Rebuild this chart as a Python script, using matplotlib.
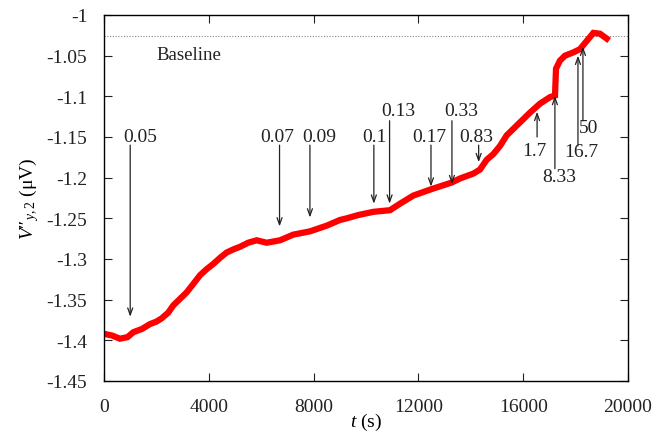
import matplotlib
matplotlib.use('Agg')
import matplotlib.pyplot as plt

plt.rcParams['font.family'] = ['Liberation Serif', 'DejaVu Serif']
plt.rcParams['mathtext.fontset'] = 'custom'
plt.rcParams['mathtext.rm'] = 'Liberation Serif'
plt.rcParams['mathtext.it'] = 'Liberation Serif:italic'

# signal
t = [0, 300, 610, 900, 1120, 1450, 1756, 2000, 2200, 2450, 2646, 2900, 3155, 3400,
     3664, 3900, 4172, 4450, 4682, 4950, 5191, 5500, 5827, 6209, 6718, 7227, 7863,
     8500, 9008, 9263, 9700, 10280, 10916, 11298, 11807, 12508, 13271, 13588, 14097,
     14351, 14606, 14860, 15115, 15369, 15878, 16260, 16641, 17023, 17214, 17252,
     17405, 17595, 17913, 18168, 18422, 18677, 18931, 19186]
v = [-1.392, -1.394, -1.398, -1.396, -1.390, -1.386, -1.380, -1.377, -1.373, -1.366,
     -1.357, -1.349, -1.341, -1.331, -1.320, -1.313, -1.306, -1.298, -1.292, -1.288,
     -1.285, -1.280, -1.277, -1.280, -1.277, -1.270, -1.266, -1.259, -1.252, -1.250,
     -1.246, -1.242, -1.240, -1.232, -1.222, -1.214, -1.206, -1.201, -1.195, -1.190,
     -1.178, -1.171, -1.161, -1.148, -1.132, -1.120, -1.109, -1.101, -1.099, -1.066,
     -1.056, -1.050, -1.046, -1.042, -1.032, -1.022, -1.023, -1.029]
baseline = -1.026

# markers: label, time, label y, arrow tail y, arrow tip y
mark_labels = ['0.05', '0.07', '0.09', '0.1', '0.13', '0.17', '0.33', '0.83',
               '1.7', '8.33', '16.7', '50']
mark_t = [1000, 6700, 7860, 10300, 10900, 12480, 13280, 14300, 16530, 17210, 18090, 18280]
mark_label_y = [-1.149, -1.149, -1.149, -1.149, -1.118, -1.149, -1.118, -1.149,
                -1.167, -1.198, -1.168, -1.138]
mark_tail_y = [-1.160, -1.160, -1.160, -1.160, -1.130, -1.160, -1.130, -1.160,
               -1.150, -1.189, -1.161, -1.130]
mark_tip_y = [-1.371, -1.260, -1.249, -1.232, -1.232, -1.211, -1.208, -1.181,
              -1.119, -1.0995, -1.050, -1.039]
label_dx = [380, -80, 340, 40, 340, -80, 340, -80, -110, 150, 110, 230]

fig = plt.figure(figsize=(6.68, 4.35), dpi=100)
ax = fig.add_axes([104 / 668, 1 - 382 / 435, 524 / 668, 366 / 435])

ax.axhline(baseline, color='#888888', linestyle=(0, (1, 1.5)), linewidth=0.8)
ax.plot(t, v, color='red', linewidth=4.5, solid_joinstyle='miter')

for lab, x, ly, y0, y1, dx in zip(mark_labels, mark_t, mark_label_y, mark_tail_y,
                                  mark_tip_y, label_dx):
    ax.annotate('', xy=(x, y1), xytext=(x, y0),
                arrowprops=dict(arrowstyle='->,head_length=0.5,head_width=0.18',
                                color='#222222', linewidth=0.9, shrinkA=0, shrinkB=0))
    ax.text(x + dx, ly, lab, ha='center', va='center', fontsize=14, color='#222222')

ax.text(2000, -1.048, 'Baseline', ha='left', va='center', fontsize=13.5, color='#222222')

ax.set_xlim(0, 20000)
ax.set_ylim(-1.45, -1.0)
ax.set_xticks(range(0, 20001, 4000))
ax.set_yticks([-1.45, -1.4, -1.35, -1.3, -1.25, -1.2, -1.15, -1.1, -1.05, -1.0])
ax.set_yticklabels(['-1.45', '-1.4', '-1.35', '-1.3', '-1.25', '-1.2', '-1.15',
                    '-1.1', '-1.05', '-1'])
ax.tick_params(direction='in', top=True, right=True, length=6, width=0.8,
               labelsize=14, colors='#222222')
ax.tick_params(axis='y', pad=12)
ax.tick_params(axis='x', pad=12)
for s in ax.spines.values():
    s.set_linewidth(1.0)

ax.set_xlabel(r'$t$ (s)', fontsize=14, labelpad=-3)
ax.set_ylabel("$V\u2033_{y,2}$ (μV)", fontsize=14, labelpad=4)

fig.savefig('out.png', dpi=100)
